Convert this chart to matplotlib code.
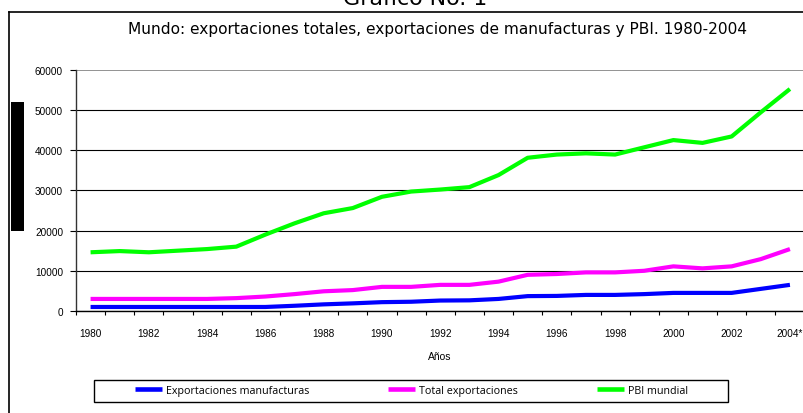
import matplotlib
matplotlib.use("Agg")
import matplotlib.pyplot as plt
from matplotlib.patches import Rectangle
from matplotlib.lines import Line2D
from matplotlib.font_manager import FontProperties

# ---------------- data ----------------
years = list(range(1980, 2005))
year_labels = [str(y) for y in years[:-1]] + ["2004*"]

pbi_mundial = [14600, 14900, 14600, 15000, 15400, 16000, 19000, 21800, 24300,
               25600, 28400, 29700, 30200, 30800, 33800, 38100, 38900, 39200,
               38900, 40700, 42500, 41800, 43400, 49400, 55200]
total_export = [3000, 3000, 3000, 3000, 3000, 3200, 3600, 4200, 4900, 5200,
                6000, 6000, 6500, 6500, 7300, 9000, 9200, 9600, 9600, 10000,
                11100, 10600, 11100, 12900, 15400]
manuf_export = [1000, 1000, 1000, 1000, 1000, 1000, 1000, 1300, 1650, 1900,
                2200, 2300, 2600, 2650, 3000, 3700, 3750, 4000, 4000, 4200,
                4500, 4500, 4500, 5500, 6500]

series_names = ["Exportaciones manufacturas", "Total exportaciones", "PBI mundial"]
series_colors = ["#0000FF", "#FF00FF", "#00FF00"]
y_ticks = [0, 10000, 20000, 30000, 40000, 50000, 60000]

main_title = "Gráfico No. 1"
sub_title = "Mundo: exportaciones totales, exportaciones de manufacturas y PBI. 1980-2004"
x_title = "Años"

# ---------------- layout helpers ----------------
W, H = 804, 414
def px(x):
    return x / W
def py(y):
    return 1 - y / H

fig = plt.figure(figsize=(W / 100, H / 100), dpi=100)
fig.patch.set_facecolor("white")
renderer = fig.canvas.get_renderer()

# outer frame
fig.add_artist(Line2D([px(9), px(9)], [py(12.5), py(H + 5)], transform=fig.transFigure,
                      color="black", lw=1.2))
fig.add_artist(Line2D([px(9), px(W + 5)], [py(12.5), py(12.5)], transform=fig.transFigure,
                      color="black", lw=1.2))
# black block at left
fig.add_artist(Rectangle((px(11), py(231.7)), px(24) - px(11), py(102.7) - py(231.7),
                         transform=fig.transFigure, facecolor="black", edgecolor="none"))

# ---------------- axes ----------------
ax = fig.add_axes([px(76), py(312), px(804.5) - px(76), py(70.7) - py(312)])
x = list(range(len(years)))
for vals, name, col in zip([manuf_export, total_export, pbi_mundial], series_names, series_colors):
    ax.plot(x, vals, color=col, lw=3.0, label=name, solid_capstyle="butt", zorder=3)

ax.set_xlim(-0.5, len(years) - 0.5)
ax.set_ylim(y_ticks[0], y_ticks[-1])
ax.set_yticks(y_ticks)
ax.set_yticklabels([str(v) for v in y_ticks])
ax.yaxis.grid(True, color="black", lw=0.8)
gl = ax.get_ygridlines()
gl[-1].set_color("#808080")
gl[-1].set_linewidth(1.2)
ax.set_axisbelow(True)

ax.set_xticks(x[::2])
ax.set_xticklabels(year_labels[::2])
ax.set_xticks([i - 0.5 for i in range(len(years) + 1)], minor=True)
ax.tick_params(axis="x", which="major", length=0, pad=12.5)
ax.tick_params(axis="x", which="minor", length=3, width=0.8, direction="out", color="black")
ax.tick_params(axis="y", which="major", length=4.3, width=0.8, direction="out", pad=5,
               color="black")

tick_font = FontProperties(family="Liberation Sans", size=7.2)
for lab in ax.get_xticklabels() + ax.get_yticklabels():
    lab.set_fontproperties(tick_font)
    lab.set_color("black")

for s in ["top", "right"]:
    ax.spines[s].set_visible(False)
ax.spines["left"].set_color("#333333")
ax.spines["left"].set_linewidth(1.0)
ax.spines["bottom"].set_color("black")
ax.spines["bottom"].set_linewidth(1.0)

# axis title
fig.text(px(440), py(357), x_title, ha="center", va="center",
         fontproperties=FontProperties(family="Liberation Sans", size=7.4))

# ---------------- titles ----------------
def fit_text(t, target_w):
    w = t.get_window_extent(renderer).width
    t.set_fontsize(t.get_fontsize() * target_w / w)

t_main = fig.text(px(415), py(5), main_title, ha="center", va="baseline",
                  fontfamily="DejaVu Sans", fontsize=14)
fit_text(t_main, 145)

t_sub = fig.text(px(437.5), py(34), sub_title, ha="center", va="baseline",
                 fontfamily="DejaVu Sans", fontsize=10)
fit_text(t_sub, 620)

# ---------------- legend ----------------
leg_fam = ["Open Sans", "DejaVu Sans"]
probe = fig.text(0, 0, series_names[0], fontfamily=leg_fam, fontsize=8)
w0 = probe.get_window_extent(renderer).width
leg_size = 8 * 145 / w0
probe.remove()
fs_px = leg_size * 100 / 72

fig.add_artist(Rectangle((px(94.3), py(403.3)), px(727.7) - px(94.3), py(381) - py(403.3),
                         transform=fig.transFigure, facecolor="white", edgecolor="black",
                         lw=1.0))
handles, labels = ax.get_legend_handles_labels()
leg = fig.legend(handles, labels, ncol=3, loc="center left",
                 bbox_to_anchor=(px(135), py(391.5)), bbox_transform=fig.transFigure,
                 frameon=False, borderpad=0, borderaxespad=0,
                 handlelength=27 / fs_px, handletextpad=4 / fs_px,
                 columnspacing=79 / fs_px,
                 prop=FontProperties(family=leg_fam, size=leg_size))
for h in leg.get_lines():
    h.set_linewidth(3.3)

fig.savefig("out.png", dpi=100, facecolor="white")
